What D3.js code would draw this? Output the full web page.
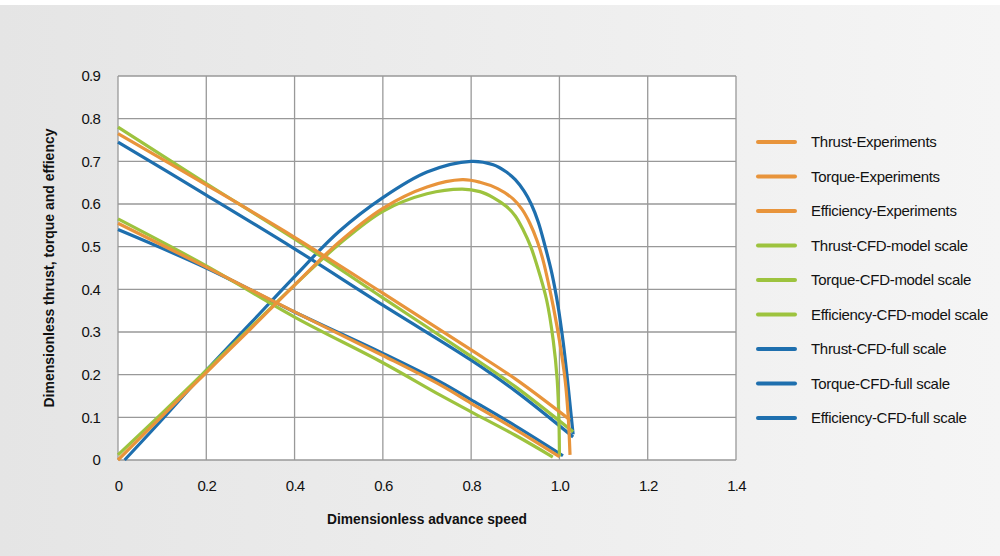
<!DOCTYPE html>
<html><head><meta charset="utf-8">
<script src="https://cdn.jsdelivr.net/npm/d3@7"></script>
<style>
html,body{margin:0;padding:0;}
svg{display:block;font-family:"Liberation Sans",Arial,Helvetica,sans-serif;}
</style></head>
<body><svg id="c" width="1000" height="556"></svg>
<script>
// ---- data ----
const xTicks = [0,0.2,0.4,0.6,0.8,1.0,1.2,1.4];
const xTickLabels = ["0","0.2","0.4","0.6","0.8","1.0","1.2","1.4"];
const yTicks = [0,0.1,0.2,0.3,0.4,0.5,0.6,0.7,0.8,0.9];
const yTickLabels = ["0","0.1","0.2","0.3","0.4","0.5","0.6","0.7","0.8","0.9"];
const seriesNames = ["Thrust-Experiments","Torque-Experiments","Efficiency-Experiments",
  "Thrust-CFD-model scale","Torque-CFD-model scale","Efficiency-CFD-model scale",
  "Thrust-CFD-full scale","Torque-CFD-full scale","Efficiency-CFD-full scale"];
const seriesGroups = ["exp","exp","exp","model","model","model","full","full","full"];

const thrustExp = [[0,0.765],[0.2,0.645],[0.4,0.522],[0.6,0.391],[0.8,0.258],[0.9,0.19],[1.024,0.094]];
const torqueExp = [[0,0.555],[0.2,0.452],[0.4,0.347],[0.6,0.245],[0.73,0.176],[0.8,0.133],[0.9,0.072],[1.0,0.008]];
const effExp = [[0,0],[0.1,0.103],[0.2,0.205],[0.3,0.307],[0.4,0.41],[0.5,0.51],[0.6,0.59],[0.7,0.64],[0.78,0.657],[0.82,0.651],[0.86,0.636],[0.895,0.612],[0.915,0.588],[0.933,0.555],[0.95,0.512],[0.963,0.468],[0.976,0.41],[0.986,0.36],[1.0,0.28],[1.013,0.187],[1.02,0.1],[1.024,0.012]];

const thrustModel = [[0,0.78],[0.2,0.648],[0.4,0.518],[0.6,0.38],[0.8,0.243],[0.9,0.172],[1.031,0.066]];
const torqueModel = [[0,0.565],[0.2,0.455],[0.4,0.335],[0.6,0.228],[0.73,0.152],[0.8,0.113],[0.9,0.058],[0.985,0.007]];
const effModel = [[0,0.012],[0.1,0.11],[0.2,0.21],[0.3,0.31],[0.4,0.41],[0.5,0.505],[0.6,0.583],[0.7,0.624],[0.78,0.635],[0.82,0.629],[0.85,0.615],[0.88,0.594],[0.9,0.572],[0.918,0.539],[0.935,0.5],[0.948,0.46],[0.971,0.375],[0.986,0.28],[0.995,0.187],[0.999,0.086],[1.0,0.008]];

const thrustFull = [[0,0.745],[0.2,0.621],[0.4,0.495],[0.6,0.363],[0.8,0.234],[0.9,0.162],[1.031,0.054]];
const torqueFull = [[0,0.54],[0.2,0.45],[0.4,0.347],[0.6,0.25],[0.73,0.183],[0.8,0.141],[0.9,0.08],[1.008,0.01]];
const effFull = [[0.015,0],[0.1,0.095],[0.2,0.21],[0.3,0.32],[0.4,0.43],[0.5,0.535],[0.6,0.615],[0.7,0.675],[0.8,0.70],[0.85,0.692],[0.88,0.675],[0.9,0.657],[0.92,0.63],[0.936,0.60],[0.952,0.558],[0.967,0.503],[0.983,0.437],[0.997,0.36],[1.008,0.28],[1.017,0.2],[1.024,0.13],[1.031,0.06]];

const seriesData = [thrustExp,torqueExp,effExp,thrustModel,torqueModel,effModel,thrustFull,torqueFull,effFull];

// ---- styles ----
const colors = {exp:"#e8943b", model:"#9dc33e", full:"#1e6fae"};

const svg = d3.select("#c");
const W = 1000, H = 556;
const defs = svg.append("defs");
const grad = defs.append("linearGradient").attr("id","bg").attr("x1","0").attr("x2","1").attr("y1","0").attr("y2","0");
grad.append("stop").attr("offset","0").attr("stop-color","#e5e5e5");
grad.append("stop").attr("offset","1").attr("stop-color","#f5f5f5");
svg.append("rect").attr("width",W).attr("height",H).attr("fill","url(#bg)");
svg.append("rect").attr("width",W).attr("height",5).attr("fill","#ffffff");

const m = {left:118, right:736, top:76, bottom:460};
const x = d3.scaleLinear().domain([0,1.4]).range([m.left,m.right]);
const y = d3.scaleLinear().domain([0,0.9]).range([m.bottom,m.top]);

svg.append("rect").attr("x",m.left).attr("y",m.top).attr("width",m.right-m.left).attr("height",m.bottom-m.top).attr("fill","#ffffff");

const gridColor = "#999999";
svg.append("g").selectAll("line").data(xTicks).join("line")
  .attr("x1",d=>x(d)).attr("x2",d=>x(d)).attr("y1",m.top).attr("y2",m.bottom)
  .attr("stroke",gridColor).attr("stroke-width",1.3);
svg.append("g").selectAll("line").data(yTicks).join("line")
  .attr("x1",m.left).attr("x2",m.right).attr("y1",d=>y(d)).attr("y2",d=>y(d))
  .attr("stroke",gridColor).attr("stroke-width",1.3);

// axes (labels only)
const xAxis = d3.axisBottom(x).tickValues(xTicks).tickFormat((d,i)=>xTickLabels[i]).tickSize(0).tickPadding(20);
const gx = svg.append("g").attr("transform",`translate(0,${m.bottom})`).call(xAxis);
gx.select(".domain").remove();
gx.selectAll("text").attr("font-size",15).attr("fill","#111").attr("font-family","Liberation Sans, Arial, sans-serif").attr("letter-spacing","-0.8");

const yAxis = d3.axisLeft(y).tickValues(yTicks).tickFormat((d,i)=>yTickLabels[i]).tickSize(0).tickPadding(18);
const gy = svg.append("g").attr("transform",`translate(${m.left},0)`).call(yAxis);
gy.select(".domain").remove();
gy.selectAll("text").attr("font-size",15).attr("fill","#111").attr("font-family","Liberation Sans, Arial, sans-serif").attr("letter-spacing","-0.8");

// axis titles
svg.append("text").attr("x",427).attr("y",524).attr("text-anchor","middle")
  .attr("font-size",14).attr("font-weight","bold").attr("fill","#111")
  .attr("textLength",200).attr("lengthAdjust","spacingAndGlyphs")
  .text("Dimensionless advance speed");
svg.append("text").attr("transform","translate(54,268) rotate(-90)").attr("text-anchor","middle")
  .attr("font-size",14).attr("font-weight","bold").attr("fill","#111")
  .attr("textLength",279).attr("lengthAdjust","spacingAndGlyphs")
  .text("Dimensionless thrust, torque and effiency");

// lines
const line = d3.line().x(d=>x(d[0])).y(d=>y(d[1])).curve(d3.curveCatmullRom.alpha(0.5));
const drawOrder = [6,7,8,3,4,5,0,1,2];
svg.append("g").selectAll("path").data(drawOrder).join("path")
  .attr("d",i=>line(seriesData[i]))
  .attr("fill","none")
  .attr("stroke",i=>colors[seriesGroups[i]])
  .attr("stroke-width",3.2)
  .attr("stroke-linejoin","round");

// legend
const lg = svg.append("g");
const rowY = i => 142 + i*34.5;
lg.selectAll("line").data(seriesNames).join("line")
  .attr("x1",758).attr("x2",795).attr("y1",(d,i)=>rowY(i)).attr("y2",(d,i)=>rowY(i))
  .attr("stroke",(d,i)=>colors[seriesGroups[i]]).attr("stroke-width",4).attr("stroke-linecap","round");
lg.selectAll("text").data(seriesNames).join("text")
  .attr("x",811).attr("y",(d,i)=>rowY(i)+5)
  .attr("font-size",15).attr("fill","#111").attr("letter-spacing","-0.3")
  .text(d=>d);
</script></body></html>
